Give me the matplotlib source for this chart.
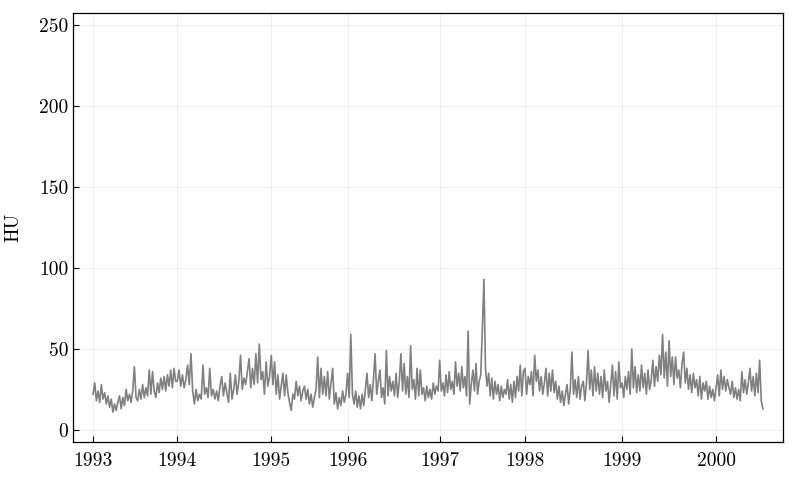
import numpy as np
import matplotlib
matplotlib.use("Agg")
import matplotlib.pyplot as plt

# ------------------------------------------------------------
# data (HU values, roughly every few days)
# ------------------------------------------------------------
years = ["1993", "1994", "1995", "1996", "1997", "1998", "1999", "2000"]
# observation index where each year begins (x axis is the obs index)
year_start_obs = [1, 321, 678, 968, 1318, 1642, 2011, 2368]
n_obs = 2546

hu_1993 = [22, 29, 18, 24, 17, 28, 19, 23, 16, 21, 14, 19, 11, 16, 12, 17, 21, 13,
           20, 15, 25, 18, 22, 17, 24, 39, 20, 18, 25, 19, 28, 20, 26, 21, 37, 22,
           36, 24, 20, 29, 23, 32, 25, 33, 24, 34, 27, 37, 26, 38, 30]
hu_1994 = [30, 37, 27, 34, 26, 31, 40, 28, 47, 24, 16, 25, 18, 22, 19, 40, 22, 26,
           20, 38, 21, 25, 19, 24, 18, 27, 33, 21, 29, 23, 17, 35, 19, 25, 34, 22,
           30, 46, 25, 32, 28, 36, 44, 26, 38, 28, 47, 29, 53, 31, 36, 22, 42, 27, 33]
hu_1995 = [46, 28, 42, 22, 34, 19, 27, 35, 21, 34, 23, 17, 12, 22, 19, 30, 21, 27,
           18, 24, 27, 19, 25, 16, 22, 14, 20, 25, 45, 20, 38, 22, 33, 21, 36, 19,
           29, 38, 16, 23, 13, 20, 15, 24, 17, 22]
hu_1996 = [35, 20, 59, 22, 16, 24, 14, 21, 13, 22, 15, 25, 35, 20, 28, 18, 31, 47,
           22, 30, 37, 20, 26, 16, 49, 21, 33, 24, 30, 21, 35, 20, 30, 47, 24, 41,
           22, 33, 20, 52, 25, 31, 19, 38, 21, 37, 22, 26, 18, 27, 20, 25, 19, 29,
           22, 27, 24]
hu_1997 = [43, 24, 29, 21, 34, 23, 36, 25, 30, 22, 42, 27, 35, 24, 39, 26, 33, 21,
           61, 16, 28, 37, 24, 41, 22, 30, 34, 62, 93, 38, 27, 35, 21, 32, 19, 30,
           22, 28, 18, 27, 20, 25, 22, 31, 19, 28, 17, 30, 20, 33, 24, 40, 21, 36]
hu_1998 = [38, 22, 33, 28, 36, 21, 46, 30, 37, 24, 33, 22, 29, 38, 21, 35, 24, 37,
           23, 30, 19, 27, 17, 24, 15, 22, 28, 16, 25, 48, 22, 31, 20, 33, 19, 27,
           30, 18, 29, 49, 25, 37, 21, 39, 24, 35, 22, 33, 20, 37, 24, 30, 17, 28,
           40, 21, 36, 19, 42, 26]
hu_1999 = [29, 20, 33, 25, 36, 22, 50, 26, 39, 23, 34, 24, 40, 26, 35, 22, 37, 25,
           31, 43, 27, 39, 30, 46, 34, 59, 32, 48, 27, 55, 33, 45, 28, 45, 32, 37,
           26, 41, 48, 29, 38, 25, 34, 23, 35, 26, 31, 21, 33, 19, 29, 24, 30, 19,
           27, 20, 25, 18]
hu_2000 = [26, 34, 21, 37, 25, 33, 24, 31, 26, 22, 30, 20, 26, 19, 25, 18, 36, 23,
           31, 22, 29, 38, 24, 33, 21, 35, 23, 43, 18, 13]

yearly = [hu_1993, hu_1994, hu_1995, hu_1996, hu_1997, hu_1998, hu_1999, hu_2000]
y_ticks = [0, 50, 100, 150, 200, 250]

# ------------------------------------------------------------
# build x positions: spread each year's readings over its obs span
# ------------------------------------------------------------
bounds = year_start_obs + [n_obs]
xs, ys = [], []
for i, vals in enumerate(yearly):
    last = i == len(yearly) - 1
    xs.append(np.linspace(bounds[i], bounds[i + 1], len(vals), endpoint=last))
    ys.append(np.asarray(vals, dtype=float))
x = np.concatenate(xs)
y = np.concatenate(ys)

# ------------------------------------------------------------
# plot
# ------------------------------------------------------------
plt.rcParams["font.family"] = "serif"
plt.rcParams["font.serif"] = ["cmr10"]
plt.rcParams["axes.formatter.use_mathtext"] = True

fig = plt.figure(figsize=(7.97, 4.78), dpi=100)
ax = fig.add_axes([0.0916, 0.0753, 0.8908, 0.8975])

ax.plot(x, y, color="#808080", linewidth=1.2)

span = n_obs - 1
ax.set_xlim(1 - 0.03 * span, n_obs + 0.03 * span)
ax.set_ylim(-7.5, 257.5)

ax.set_xticks(year_start_obs)
ax.set_xticklabels(years)
ax.set_yticks(y_ticks)
ax.set_yticklabels([str(v) for v in y_ticks])

ax.tick_params(direction="in", length=4, width=0.8, labelsize=14,
               top=False, right=False)
ax.tick_params(axis="x", pad=7)
ax.grid(True, color="black", alpha=0.07, linewidth=0.6)
for sp in ax.spines.values():
    sp.set_linewidth(0.9)

ax.set_ylabel("HU", fontsize=14, labelpad=12)

fig.savefig("out.png", dpi=100)
